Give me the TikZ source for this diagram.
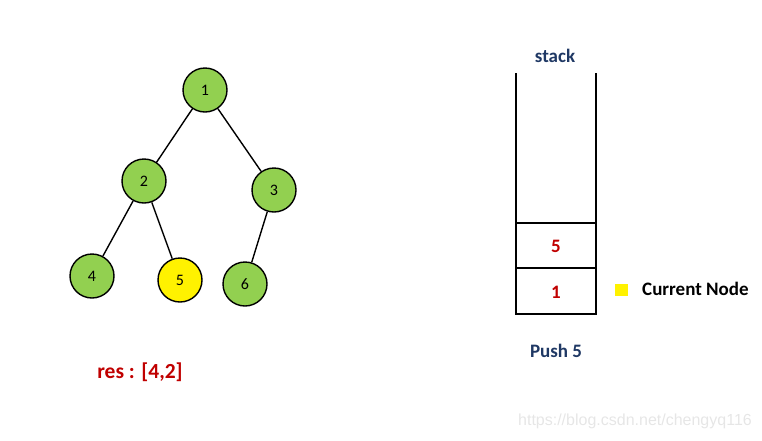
\documentclass[tikz,border=0pt]{standalone}
\usepackage{fontspec}
\setmainfont{Carlito}
\newfontfamily\wmfont{Liberation Sans}
\definecolor{nodegreen}{HTML}{92D050}
\definecolor{navy}{HTML}{1F3864}
\definecolor{darkred}{HTML}{C00000}
\definecolor{wm}{HTML}{E6E6E6}
\tikzset{
  tnode/.style={circle, draw=black, line width=1.4pt, fill=nodegreen, minimum size=44pt, inner sep=0pt, font=\fontsize{16}{16}\selectfont},
  cur/.style={tnode, fill=yellow},
  edge/.style={line width=1.4pt},
  wall/.style={line width=2pt},
  lbl/.style={font=\bfseries\fontsize{19}{19}\selectfont},
}
\begin{document}
\begin{tikzpicture}[x=1pt,y=-1pt]
\useasboundingbox (0,0) rectangle (762,440);
% tree
\node[tnode] (n1) at (205,90) {1};
\node[tnode] (n2) at (144,181) {2};
\node[tnode] (n3) at (274,190) {3};
\node[tnode] (n4) at (92,276) {4};
\node[cur]   (n5) at (180,280) {5};
\node[tnode] (n6) at (245,284) {6};
\draw[edge] (n1) -- (n2);
\draw[edge] (n1) -- (n3);
\draw[edge] (n2) -- (n4);
\draw[edge] (n2) -- (n5);
\draw[edge] (n3) -- (n6);
\node[lbl, text=darkred, font=\bfseries\fontsize{21.5}{21.5}\selectfont] (res) at (140,372) {res : [4,2]};
% stack
\coordinate (tl) at (516,73);
\coordinate (tr) at (596,73);
\coordinate (bl) at (516,314);
\coordinate (br) at (596,314);
\draw[wall] (tl) -- (bl) -- (br) -- (tr);
\coordinate (d1l) at (516,223);
\coordinate (d1r) at (596,223);
\coordinate (d2l) at (516,268);
\coordinate (d2r) at (596,268);
\draw[wall] (d1l) -- (d1r);
\draw[wall] (d2l) -- (d2r);
\node[lbl, text=darkred] (s5) at (556,246) {5};
\node[lbl, text=darkred] (s1) at (556,292) {1};
\node[lbl, text=navy] (stk) at (555,56) {stack};
\node[lbl, text=navy] (push) at (556,351) {Push 5};
% legend
\node[fill=yellow, minimum width=13pt, minimum height=12pt, inner sep=0pt] (leg) at (621,290) {};
\node[lbl, anchor=west, inner sep=0pt] (legt) at (642,289) {Current Node};
% watermark
\node[text=wm, font=\wmfont\fontsize{16}{16}\selectfont, anchor=east, inner sep=0pt] (wmk) at (752,421) {https://blog.csdn.net/chengyq116};
\end{tikzpicture}
\end{document}
